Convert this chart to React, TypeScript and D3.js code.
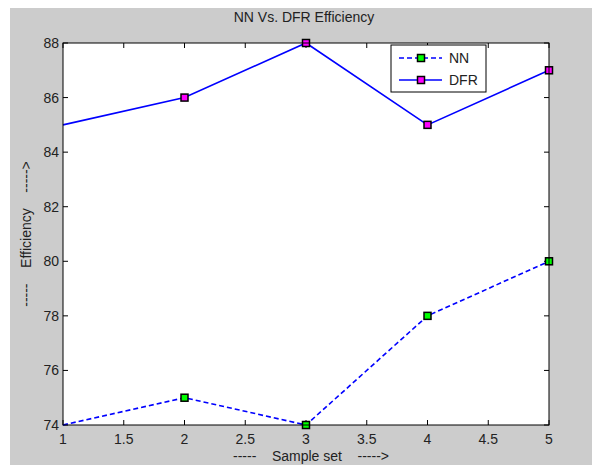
import React from "react";
import * as d3 from "d3";

const samples = [1, 2, 3, 4, 5];
const nnValues = [74, 75, 74, 78, 80];
const dfrValues = [85, 86, 88, 85, 87];
const xTicks = [1, 1.5, 2, 2.5, 3, 3.5, 4, 4.5, 5];
const yTicks = [74, 76, 78, 80, 82, 84, 86, 88];

export default function App() {
  const W = 592, H = 465;
  const left = 63, right = 549, top = 43, bottom = 425;
  const x = d3.scaleLinear().domain([1, 5]).range([left, right]);
  const y = d3.scaleLinear().domain([74, 88]).range([bottom, top]);
  const line = d3.line<number>().x((_, i) => x(samples[i])).y((d) => y(d));
  const font = "'Liberation Sans', Arial, sans-serif";
  const blue = "#0000ff";
  const tl = 5;
  const fs = 14;
  return (
    <svg width={W} height={H} style={{ position: "absolute", left: 0, top: 0 }} fontFamily={font}>
      <rect x={0} y={0} width={W} height={H} fill="#ffffff" />
      <rect x={10} y={8} width={W - 10} height={H - 8} fill="#cccccc" />
      <rect x={left} y={top} width={right - left} height={bottom - top} fill="#ffffff" />
      {xTicks.map((t) => (
        <g key={"x" + t}>
          <line x1={x(t)} x2={x(t)} y1={bottom} y2={bottom - tl} stroke="#000" />
          <line x1={x(t)} x2={x(t)} y1={top} y2={top + tl} stroke="#000" />
          <text x={x(t)} y={bottom + 19} fontSize={fs} textAnchor="middle" fill="#222">{t}</text>
        </g>
      ))}
      {yTicks.map((t) => (
        <g key={"y" + t}>
          <line x1={left} x2={left + tl} y1={y(t)} y2={y(t)} stroke="#000" />
          <line x1={right} x2={right - tl} y1={y(t)} y2={y(t)} stroke="#000" />
          <text x={left - 4} y={y(t) + 5} fontSize={fs} textAnchor="end" fill="#222">{t}</text>
        </g>
      ))}
      <path d={line(nnValues) || ""} fill="none" stroke={blue} strokeWidth={1.6} strokeDasharray="5,3" />
      <path d={line(dfrValues) || ""} fill="none" stroke={blue} strokeWidth={1.6} />
      {nnValues.map((v, i) => i === 0 ? null : (
        <rect key={"n" + i} x={x(samples[i]) - 3.5} y={y(v) - 3.5} width={7} height={7} fill="#00ff00" stroke="#000" strokeWidth={1.5} />
      ))}
      {dfrValues.map((v, i) => i === 0 ? null : (
        <rect key={"d" + i} x={x(samples[i]) - 3.5} y={y(v) - 3.5} width={7} height={7} fill="#ff00ff" stroke="#000" strokeWidth={1.5} />
      ))}
      <rect x={left} y={top} width={right - left} height={bottom - top} fill="none" stroke="#000" strokeWidth={1} />
      <g>
        <rect x={391} y={45} width={95} height={47} fill="#ffffff" stroke="#000" strokeWidth={1} />
        <line x1={399} x2={442} y1={58} y2={58} stroke={blue} strokeWidth={1.6} strokeDasharray="5,3" />
        <rect x={421 - 3.5} y={58 - 3.5} width={7} height={7} fill="#00ff00" stroke="#000" strokeWidth={1.5} />
        <text x={449} y={63} fontSize={fs} fill="#222">NN</text>
        <line x1={399} x2={442} y1={80} y2={80} stroke={blue} strokeWidth={1.6} />
        <rect x={421 - 3.5} y={80 - 3.5} width={7} height={7} fill="#ff00ff" stroke="#000" strokeWidth={1.5} />
        <text x={449} y={85} fontSize={fs} fill="#222">DFR</text>
      </g>
      <text x={304} y={22} fontSize={fs} textAnchor="middle" fill="#222">NN Vs. DFR Efficiency</text>
      <text x={311} y={461} fontSize={fs} textAnchor="middle" fill="#222" xmlSpace="preserve">-----    Sample set    -----&gt;</text>
      <text transform={`translate(31,${(top + bottom) / 2}) rotate(-90)`} fontSize={fs} textAnchor="middle" fill="#222" xmlSpace="preserve">-----    Efficiency    -----&gt;</text>
    </svg>
  );
}
